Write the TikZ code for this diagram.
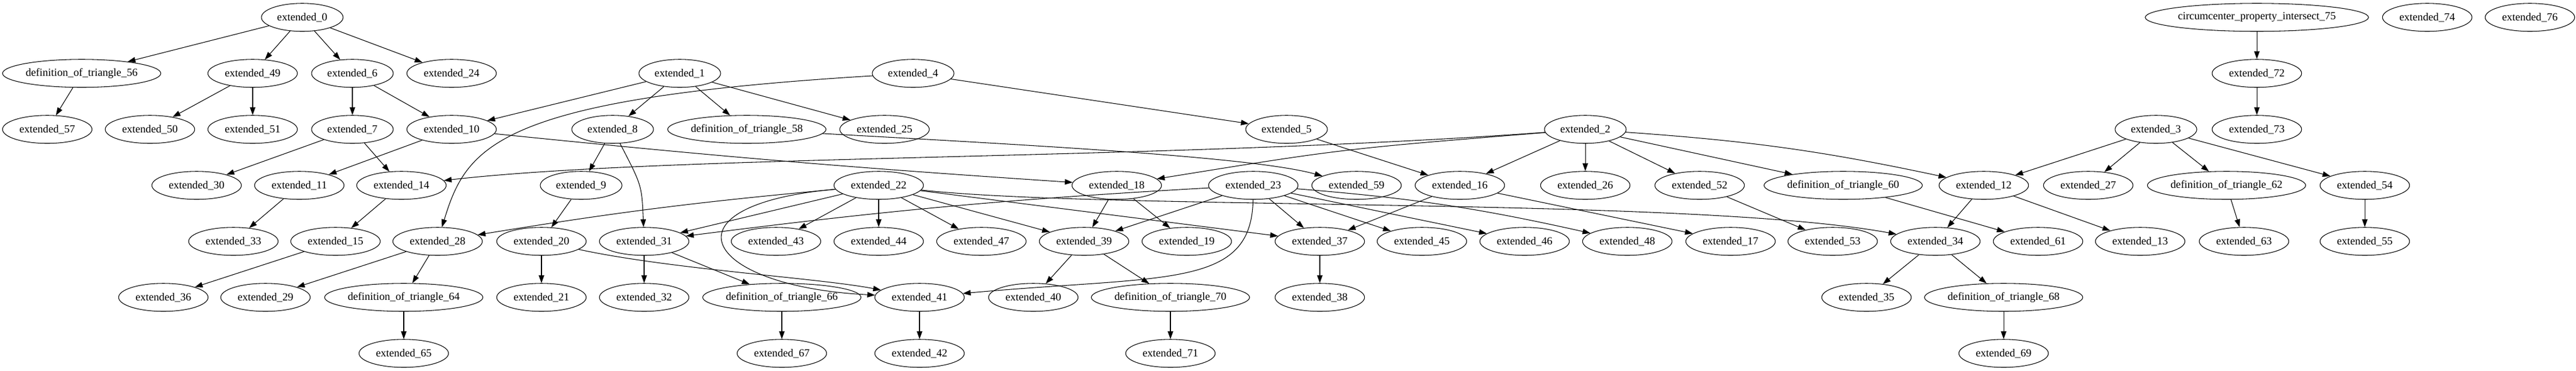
\documentclass[tikz,border=0pt]{standalone}
\usepackage{fontspec}
\setmainfont{Liberation Serif}
\usetikzlibrary{shapes.geometric,arrows.meta}
\begin{document}
\begin{tikzpicture}[x=0.75pt,y=-72pt,>={Triangle[length=10pt,width=7pt]},
  nd/.style={draw,ellipse,line width=0.8pt,inner sep=0pt,minimum height=36pt,minimum width=115pt,font=\fontsize{14}{16}\selectfont},
  arr/.style={->,line width=0.8pt}]
\pgfmathsetmacro{\W}{4415}
\pgfmathsetmacro{\T}{-0.31}
\pgfmathsetmacro{\B}{6.305}
\useasboundingbox (0,\T) rectangle (\W,\B);
\foreach \n/\x/\r in {0/518/0,1/1165/1,2/2717/2,3/3695/2,4/1565/1,5/2205/2,6/604/1,7/604/2,8/1050/2,9/996/3}
  \node[nd,minimum width=105pt] (e\n) at (\x,\r) {extended\_\n};
\foreach \n/\x/\r in {10/774/2,11/513/3,12/3400/3,13/3668/4,14/688/3,15/575/4,16/2502/3,17/2966/4,18/1914/3,19/2034/4,
  20/928/4,21/928/5,22/1506/3,23/2148/3,24/774/1,25/1516/2,26/2717/3,27/3579/3,28/750/4,29/455/5,
  30/337/3,31/1104/4,32/1104/5,33/400/4,34/3317/4,35/3199/5,36/280/5,37/2262/4,38/2262/5,39/1858/4,
  40/1771/5,41/1576/5,42/1576/6,43/1330/4,44/1506/4,45/2437/4,46/2613/4,47/1682/4,48/2789/4,49/433/1,
  50/257/2,51/433/2,52/2913/3,53/3141/4,54/4053/3,55/4053/4,57/81/2,59/2325/3,61/3493/4,63/3846/4,
  65/692/6,67/1340/6,69/3434/6,71/2006/6,72/3868/1,73/3868/2,74/4160/0,76/4336/0}
  \node[nd] (e\n) at (\x,\r) {extended\_\n};
\foreach \n/\x/\r in {56/140/1,58/1280/2,60/3159/3,62/3816/3,64/692/5,66/1340/5,68/3434/5,70/2006/5}
  \node[nd,minimum width=202pt] (d\n) at (\x,\r) {definition\_of\_triangle\_\n};
\node[nd,minimum width=286pt] (c75) at (3868,0) {circumcenter\_property\_intersect\_75};
\foreach \a/\b in {e0/d56,e0/e49,e0/e6,e0/e24,d56/e57,e49/e50,e49/e51,e6/e7,e6/e10,e7/e30,e7/e14,
  e10/e11,e11/e33,e14/e15,e15/e36,e28/e29,e28/d64,d64/e65,e1/e10,e1/e8,e1/d58,e1/e25,e4/e5,
  e8/e9,e9/e20,e20/e21,e31/e32,e31/d66,d66/e67,e22/e31,e22/e43,e22/e44,e22/e47,e22/e39,e22/e37,
  e23/e39,e23/e37,e23/e45,e23/e46,e18/e39,e18/e19,e39/e40,e39/d70,d70/e71,e41/e42,e5/e16,
  e16/e37,e16/e17,e37/e38,e2/e16,e2/e26,e2/e52,e2/d60,e52/e53,d60/e61,e12/e34,e12/e13,
  e3/e12,e3/e27,e3/d62,e3/e54,e34/e35,e34/d68,d68/e69,d62/e63,e54/e55,c75/e72,e72/e73}
  \draw[arr] (\a) -- (\b);
\draw[arr] (e4) .. controls (850,1.45) and (800,2.3) .. (e28);
\draw[arr] (e22) .. controls (1130,3.35) and (1200,4.8) .. (e41);
\draw[arr] (e23) .. controls (2145,4.85) and (2000,4.6) .. (e41);
\draw[arr] (e20) .. controls (1150,4.5) and (1400,4.65) .. (e41);
\draw[arr] (e10) to[bend right=1] (e18);
\draw[arr] (e2) .. controls (2000,2.55) and (1150,2.45) .. (e14);
\draw[arr] (e2) .. controls (2300,2.35) .. (e18);
\draw[arr] (d58) .. controls (1800,2.3) and (2150,2.5) .. (e59);
\draw[arr] (e22) .. controls (1900,3.45) and (2900,3.2) .. (e34);
\draw[arr] (e23) to[bend left=4] (e48);
\draw[arr] (e2) to[bend left=4] (e12);
\draw[arr] (e8) .. controls (1100,3) .. (e31);
\draw[arr] (e22) to[bend right=2] (e28);
\draw[arr] (e23) to[bend right=2] (e31);
\end{tikzpicture}
\end{document}
